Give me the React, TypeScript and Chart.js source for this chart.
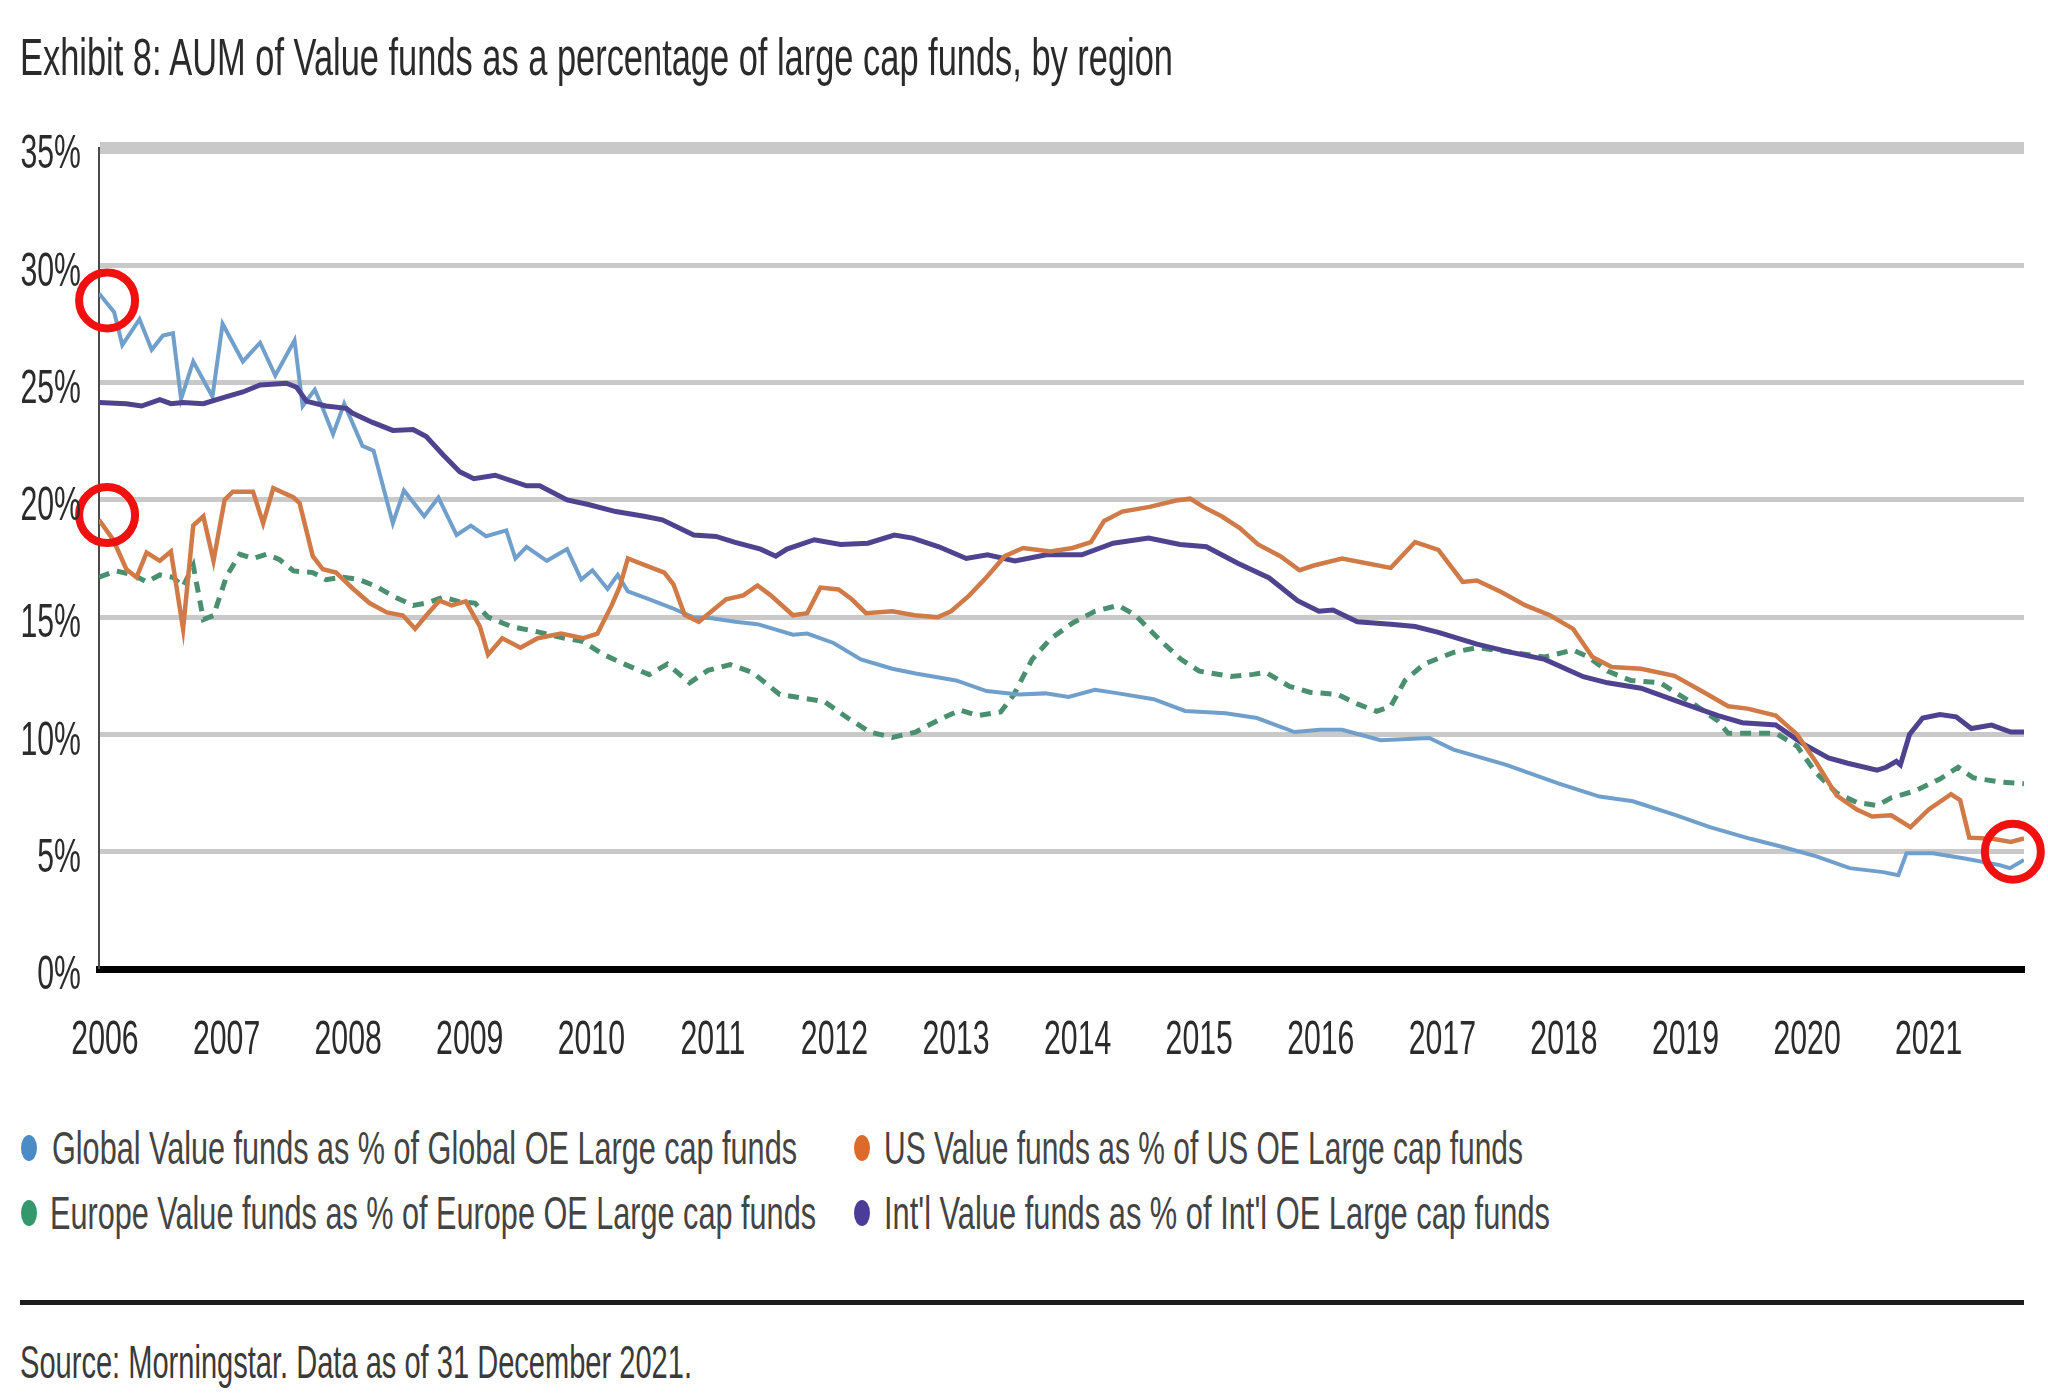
import React, { useEffect, useLayoutEffect, useRef } from "react";
import { Chart, registerables } from "chart.js";

Chart.register(...registerables);

const FONT = "'Liberation Sans', Arial, sans-serif";
const TICK_SQUEEZE = 0.63;

// ---- tick labels / axis ----
const yearLabels = ["2006", "2007", "2008", "2009", "2010", "2011", "2012", "2013", "2014", "2015", "2016", "2017", "2018", "2019", "2020", "2021"];
const yearTickMonths = [0, 12, 24, 36, 48, 60, 72, 84, 96, 108, 120, 132, 144, 156, 168, 180];

// ---- series (x = months since Jan 2006, y = %) ----
const globalMonths = [0, 1.5, 2.3, 4, 5.2, 6.3, 7.3, 8.1, 9.3, 11.2, 12.2, 14.2, 15.9, 17.4, 19.3, 20.1, 21.3, 22, 23.1, 24.2, 26, 27.1, 29, 30.1, 32.1, 33.5, 35.3, 36.7, 38.2, 40.2, 41.1, 42.2, 44.2, 46.2, 47.6, 48.7, 50.2, 51.2, 52.2, 54.4, 56.5, 58.6, 60.5, 62.8, 65, 68.5, 69.9, 72.5, 75.2, 78.3, 80.6, 84.6, 87.6, 90.8, 93.4, 95.7, 98.3, 100.6, 104.1, 107.2, 111.2, 114.3, 118, 120.5, 122.7, 126.5, 131.3, 133.7, 138.9, 144.1, 148.1, 151.4, 155.7, 159, 163, 166.2, 169.5, 172.8, 176.1, 177.6, 178.4, 181, 184.3, 187.6, 188.6, 190];
const globalValues = [28.8, 28.0, 26.6, 27.7, 26.4, 27.0, 27.1, 24.3, 25.9, 24.4, 27.5, 25.9, 26.7, 25.3, 26.8, 24.0, 24.7, 24.0, 22.8, 24.1, 22.3, 22.1, 19.0, 20.4, 19.3, 20.1, 18.5, 18.9, 18.45, 18.7, 17.5, 18.0, 17.4, 17.9, 16.6, 17.0, 16.2, 16.8, 16.1, 15.75, 15.4, 15.0, 14.95, 14.8, 14.7, 14.25, 14.3, 13.9, 13.2, 12.8, 12.6, 12.3, 11.85, 11.7, 11.75, 11.6, 11.9, 11.75, 11.5, 11.0, 10.9, 10.7, 10.1, 10.2, 10.2, 9.75, 9.85, 9.35, 8.7, 7.9, 7.35, 7.15, 6.55, 6.05, 5.55, 5.2, 4.8, 4.3, 4.13, 4.0, 4.93, 4.93, 4.7, 4.43, 4.3, 4.65];

const usMonths = [0, 1.4, 2.7, 3.7, 4.7, 6, 7.1, 8.3, 9.3, 10.3, 11.3, 12.4, 13.2, 15.2, 16.2, 17.2, 19.2, 19.8, 21.1, 22.1, 23.4, 25.1, 26.7, 28.4, 30, 31.2, 32.3, 33.6, 34.8, 36.2, 37.6, 38.4, 39.8, 41.6, 43.3, 45.6, 47.8, 49.2, 50.6, 51.4, 52.2, 54, 55.8, 56.7, 57.8, 59.2, 61.9, 63.6, 65, 66.3, 68.5, 69.9, 71.2, 73, 74.3, 75.7, 78.3, 80.5, 82.8, 84.1, 85.9, 87.6, 89.4, 91.2, 93.9, 96.1, 97.9, 99.2, 101, 103.7, 106.3, 107.7, 109, 110.8, 112.6, 114.4, 116.6, 118.5, 119.9, 122.7, 125.1, 127.5, 129.9, 132.2, 134.6, 136, 138.4, 140.8, 143.2, 145.5, 147.4, 149.3, 152.2, 155.5, 158.4, 160.8, 162.7, 165.5, 167.6, 169.5, 171.5, 173.5, 175, 176.9, 178.8, 180.6, 182.8, 183.7, 184.6, 186.9, 188.7, 190];
const usValues = [19.15, 18.3, 17.04, 16.7, 17.75, 17.4, 17.8, 14.5, 18.9, 19.3, 17.4, 20.0, 20.35, 20.35, 19.0, 20.5, 20.1, 19.86, 17.6, 17.04, 16.9, 16.2, 15.6, 15.2, 15.07, 14.5, 15.07, 15.7, 15.5, 15.67, 14.6, 13.4, 14.1, 13.7, 14.1, 14.3, 14.1, 14.3, 15.5, 16.3, 17.5, 17.2, 16.9, 16.4, 15.1, 14.8, 15.76, 15.93, 16.35, 15.93, 15.08, 15.17, 16.26, 16.18, 15.76, 15.17, 15.25, 15.08, 15.0, 15.25, 15.93, 16.7, 17.6, 17.95, 17.8, 17.95, 18.2, 19.1, 19.5, 19.7, 19.97, 20.05, 19.7, 19.3, 18.8, 18.1, 17.6, 17.0, 17.2, 17.5, 17.3, 17.1, 18.2, 17.87, 16.5, 16.56, 16.07, 15.5, 15.08, 14.5, 13.3, 12.87, 12.8, 12.5, 11.8, 11.2, 11.1, 10.8, 10.0, 8.8, 7.4, 6.8, 6.5, 6.55, 6.05, 6.8, 7.45, 7.2, 5.6, 5.55, 5.42, 5.57];

const europeMonths = [0, 1.7, 3.4, 4.7, 6, 7.3, 8.3, 9.3, 10.3, 11.3, 12.6, 13.9, 15.2, 16.5, 17.8, 19.2, 21.1, 22.4, 24.1, 25.7, 27.4, 29, 31, 32.3, 34, 35.6, 37.1, 38.4, 40.7, 43.3, 46, 47.8, 49.6, 51.5, 54.3, 56.1, 58.3, 60.1, 62.3, 64.5, 67.2, 69.4, 71.6, 73.9, 76.1, 78.3, 80.6, 82.8, 85, 86.7, 89, 90.3, 92.1, 93.9, 96.1, 98.3, 100.6, 102.3, 104.6, 106.8, 108.6, 111.7, 113.9, 115.2, 117.5, 119.5, 122.3, 124.2, 126.1, 127.5, 128.9, 130.8, 133.7, 136, 139.4, 142.7, 145.5, 147, 148.9, 151.2, 154.1, 157.4, 159.8, 160.8, 162.7, 165.5, 167.6, 169.4, 171.5, 173.5, 175.5, 176.9, 179.3, 181.7, 183.5, 185, 187.5, 190];
const europeValues = [16.7, 16.97, 16.8, 16.5, 16.8, 16.7, 16.3, 17.2, 14.9, 15.07, 16.76, 17.68, 17.5, 17.68, 17.46, 16.97, 16.9, 16.6, 16.7, 16.6, 16.3, 15.9, 15.5, 15.6, 15.85, 15.65, 15.6, 15.0, 14.6, 14.37, 14.1, 13.96, 13.45, 13.06, 12.55, 13.0, 12.2, 12.73, 12.98, 12.64, 11.7, 11.55, 11.4, 10.7, 10.1, 9.87, 10.1, 10.6, 11.04, 10.8, 10.96, 11.7, 13.2, 14.07, 14.75, 15.25, 15.5, 15.08, 14.07, 13.2, 12.7, 12.47, 12.56, 12.64, 12.05, 11.8, 11.7, 11.3, 10.98, 11.2, 12.3, 13.0, 13.5, 13.7, 13.5, 13.3, 13.6, 13.3, 12.7, 12.3, 12.2, 11.3, 10.57, 10.05, 10.05, 10.05, 9.5, 8.4, 7.5, 7.1, 6.97, 7.3, 7.6, 8.1, 8.6, 8.15, 7.98, 7.9];

const intlMonths = [0, 2.7, 4.2, 6, 7.1, 8.3, 10.3, 12.6, 14.2, 15.9, 18.5, 19.5, 20.5, 22.4, 24.4, 25, 27, 29, 31, 32.3, 34, 35.6, 37, 39.1, 42.2, 43.5, 46.2, 48.3, 51, 53.8, 55.6, 58.7, 60.9, 62.7, 65.3, 66.8, 67.9, 70.6, 73.2, 75.9, 78.5, 80.3, 82.9, 85.6, 87.7, 90.4, 93.5, 97, 100.1, 103.6, 106.7, 109.3, 112.4, 115.5, 118.3, 120.4, 121.8, 124.2, 127.5, 129.9, 132.2, 136, 139.4, 142.7, 146.5, 148.9, 152.2, 156.5, 159.8, 162.2, 165.5, 168.2, 170.7, 172.6, 175.5, 176.4, 177.4, 177.8, 178.7, 180, 181.7, 183.3, 184.8, 186.8, 188.7, 190];
const intlValues = [24.15, 24.1, 24.0, 24.27, 24.1, 24.15, 24.1, 24.4, 24.6, 24.9, 24.97, 24.8, 24.2, 24.0, 23.9, 23.7, 23.3, 22.96, 23.0, 22.7, 21.9, 21.2, 20.9, 21.05, 20.6, 20.6, 20.0, 19.8, 19.5, 19.3, 19.15, 18.5, 18.44, 18.2, 17.9, 17.6, 17.9, 18.3, 18.1, 18.15, 18.5, 18.37, 18.0, 17.5, 17.66, 17.4, 17.66, 17.66, 18.15, 18.37, 18.1, 18.0, 17.3, 16.67, 15.7, 15.25, 15.3, 14.8, 14.7, 14.6, 14.35, 13.85, 13.5, 13.2, 12.46, 12.2, 11.97, 11.3, 10.8, 10.5, 10.4, 9.6, 9.0, 8.77, 8.48, 8.6, 8.85, 8.7, 10.0, 10.7, 10.85, 10.75, 10.25, 10.4, 10.1, 10.1];

// red highlight circles (annotation in the reference)
const circleMonths = [0.8, 0.8, 188.9];
const circleValues = [28.5, 19.35, 5.0];

const seriesNames = [
  "Global Value funds as % of Global OE Large cap funds",
  "US Value funds as % of US OE Large cap funds",
  "Europe Value funds as % of Europe OE Large cap funds",
  "Int'l Value funds as % of Int'l OE Large cap funds",
];

const toPoints = (xs: number[], ys: number[]) => xs.map((x, i) => ({ x, y: ys[i] }));

// Draws the axis tick labels (positions from the chart's own scales) in the
// narrow, condensed look of the reference.
const squeezedTicks = {
  id: "squeezedTicks",
  afterDraw(chart: any) {
    const ctx = chart.ctx as CanvasRenderingContext2D;
    const xs = chart.scales.x;
    const ys = chart.scales.y;
    ctx.save();
    ctx.fillStyle = "#2b2b2b";
    ctx.font = `48px ${FONT}`;
    ctx.textBaseline = "middle";
    ctx.textAlign = "right";
    ys.ticks.forEach((t: any) => {
      const py = ys.getPixelForValue(t.value) + 7;
      ctx.save();
      ctx.translate(ys.right - 18, py);
      ctx.scale(TICK_SQUEEZE, 1);
      ctx.fillText(String(t.label), 0, 0);
      ctx.restore();
    });
    ctx.textAlign = "center";
    xs.ticks.forEach((t: any) => {
      const px = xs.getPixelForValue(t.value) + 6;
      ctx.save();
      ctx.translate(px, xs.top + 72);
      ctx.scale(TICK_SQUEEZE, 1);
      ctx.fillText(String(t.label), 0, 0);
      ctx.restore();
    });
    ctx.restore();
  },
};

function FitText(props: { text: string; left: number; top: number; width: number; size: number; color: string }) {
  const ref = useRef<HTMLSpanElement>(null);
  useLayoutEffect(() => {
    const fit = () => {
      const el = ref.current;
      if (!el) return;
      el.style.transform = "none";
      const w = el.getBoundingClientRect().width;
      if (w > 0) el.style.transform = `scaleX(${props.width / w})`;
    };
    fit();
    if ((document as any).fonts && (document as any).fonts.ready) (document as any).fonts.ready.then(fit);
  }, [props.text, props.width]);
  return (
    <span
      ref={ref}
      style={{
        position: "absolute",
        left: props.left,
        top: props.top,
        fontSize: props.size,
        lineHeight: `${props.size}px`,
        whiteSpace: "nowrap",
        transformOrigin: "0 0",
        color: props.color,
        fontFamily: FONT,
      }}
    >
      {props.text}
    </span>
  );
}

function Dot(props: { cx: number; cy: number; color: string }) {
  return (
    <div
      style={{
        position: "absolute",
        left: props.cx - 8,
        top: props.cy - 13,
        width: 16,
        height: 26,
        borderRadius: "50%",
        background: props.color,
      }}
    />
  );
}

export default function App() {
  const canvasRef = useRef<HTMLCanvasElement>(null);

  useEffect(() => {
    const canvas = canvasRef.current;
    if (!canvas) return;
    const chart = new Chart(canvas, {
      type: "line",
      data: {
        datasets: [
          {
            label: "highlight",
            data: toPoints(circleMonths, circleValues),
            showLine: false,
            pointRadius: 28,
            pointHoverRadius: 28,
            pointBorderWidth: 8,
            pointBorderColor: "#f01010",
            pointBackgroundColor: "rgba(0,0,0,0)",
            borderColor: "#f01010",
            clip: false as any,
            order: 0,
          },
          {
            label: seriesNames[1],
            data: toPoints(usMonths, usValues),
            borderColor: "#d07a47",
            borderWidth: 4.5,
            pointRadius: 0,
            tension: 0,
            order: 1,
          },
          {
            label: seriesNames[3],
            data: toPoints(intlMonths, intlValues),
            borderColor: "#4f438f",
            borderWidth: 5,
            pointRadius: 0,
            tension: 0,
            order: 2,
          },
          {
            label: seriesNames[0],
            data: toPoints(globalMonths, globalValues),
            borderColor: "#709fcc",
            borderWidth: 4,
            pointRadius: 0,
            tension: 0,
            order: 3,
          },
          {
            label: seriesNames[2],
            data: toPoints(europeMonths, europeValues),
            borderColor: "#4a8f70",
            borderWidth: 5,
            borderDash: [11, 8],
            pointRadius: 0,
            tension: 0,
            order: 4,
          },
        ],
      },
      options: {
        animation: false,
        responsive: false,
        maintainAspectRatio: false,
        events: [],
        layout: { padding: { top: 148, right: 36, left: 0, bottom: 0 } },
        plugins: {
          legend: { display: false },
          tooltip: { enabled: false },
          title: { display: false },
        },
        scales: {
          x: {
            type: "linear",
            min: 0,
            max: 190,
            afterBuildTicks: (axis: any) => {
              axis.ticks = yearTickMonths.map((v) => ({ value: v }));
            },
            afterFit: (s: any) => {
              s.height = 131;
            },
            ticks: {
              display: false,
              autoSkip: false,
              maxRotation: 0,
              padding: 0,
              callback: (value: any) => {
                const i = yearTickMonths.indexOf(Number(value));
                return i >= 0 ? yearLabels[i] : "";
              },
            },
            grid: { display: true, color: "rgba(0,0,0,0)", drawTicks: false },
            border: { display: true, color: "#000000", width: 7 },
          },
          y: {
            min: 0,
            max: 35,
            afterFit: (s: any) => {
              s.width = 99;
            },
            ticks: {
              display: false,
              stepSize: 5,
              padding: 0,
              callback: (value: any) => `${value}%`,
            },
            grid: {
              drawTicks: false,
              color: "#c9c9c9",
              lineWidth: (ctx: any) => {
                const v = ctx.tick ? ctx.tick.value : -1;
                if (v === 0) return 0;
                if (v === 35) return 12;
                return 5;
              },
            },
            border: { display: true, color: "#4a4a4a", width: 2 },
          },
        },
      } as any,
      plugins: [squeezedTicks as any],
    });
    return () => chart.destroy();
  }, []);

  return (
    <div
      style={{
        position: "absolute",
        left: 0,
        top: 0,
        width: 2048,
        height: 1399,
        background: "#ffffff",
        overflow: "hidden",
        fontFamily: FONT,
      }}
    >
      <canvas
        ref={canvasRef}
        width={2060}
        height={1100}
        style={{ position: "absolute", left: 0, top: 0, width: 2060, height: 1100 }}
      />
      <FitText text="Exhibit 8: AUM of Value funds as a percentage of large cap funds, by region" left={20} top={32} width={1153} size={51} color="#2a2a2a" />

      <Dot cx={29} cy={1148} color="#4a8cc6" />
      <FitText text={seriesNames[0]} left={52} top={1125} width={745} size={46} color="#444444" />
      <Dot cx={862} cy={1148} color="#dc6a2c" />
      <FitText text={seriesNames[1]} left={884} top={1125} width={639} size={46} color="#444444" />
      <Dot cx={29} cy={1213} color="#35986c" />
      <FitText text={seriesNames[2]} left={50} top={1190} width={766} size={46} color="#444444" />
      <Dot cx={862} cy={1213} color="#4b3c98" />
      <FitText text={seriesNames[3]} left={884} top={1190} width={666} size={46} color="#444444" />

      <div style={{ position: "absolute", left: 20, top: 1300, width: 2004, height: 5, background: "#1c1c1c" }} />
      <FitText text="Source: Morningstar. Data as of 31 December 2021." left={20} top={1339} width={672} size={46} color="#3a3a3a" />
    </div>
  );
}
